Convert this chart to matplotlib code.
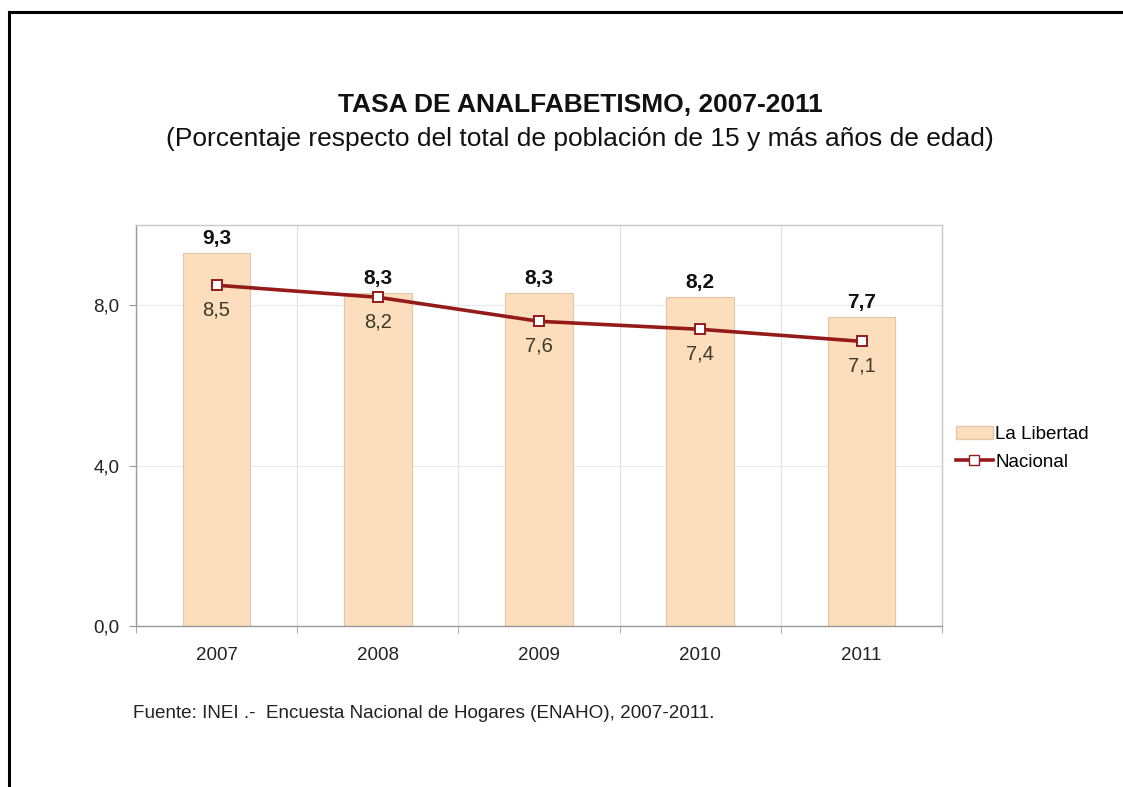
import matplotlib
matplotlib.use("Agg")
import matplotlib.pyplot as plt
from matplotlib.lines import Line2D
from matplotlib.patches import Patch

plt.rcParams['font.family'] = ['Liberation Sans', 'DejaVu Sans']

years = ["2007", "2008", "2009", "2010", "2011"]
la_libertad = [9.3, 8.3, 8.3, 8.2, 7.7]
nacional = [8.5, 8.2, 7.6, 7.4, 7.1]
yticks = [0, 4, 8]
ytick_labels = ["0,0", "4,0", "8,0"]

title = "TASA DE ANALFABETISMO, 2007-2011"
subtitle = "(Porcentaje respecto del total de población de 15 y más años de edad)"
source = "Fuente: INEI .-  Encuesta Nacional de Hogares (ENAHO), 2007-2011."

def fmt(v):
    return f"{v:.1f}".replace(".", ",")

fig = plt.figure(figsize=(11.23, 7.87), dpi=100)
ax = fig.add_axes([0.121, 0.2046, 0.718, 0.5094])

x = list(range(len(years)))
bar_color = "#FCDDBC"
line_color = "#951B1B"

ax.bar(x, la_libertad, width=0.42, color=bar_color, edgecolor="#E3C7A8",
       linewidth=0.8, zorder=2)
ax.plot(x, nacional, color=line_color, linewidth=2.6, marker="s",
        markersize=7, markerfacecolor="white", markeredgecolor=line_color,
        markeredgewidth=1.4, zorder=3)

for xi, v in zip(x, la_libertad):
    ax.annotate(fmt(v), (xi, v), xytext=(0, 4), textcoords="offset points",
                ha="center", va="bottom", fontsize=15, fontweight="bold",
                color="#111111")
for xi, v in zip(x, nacional):
    ax.annotate(fmt(v), (xi, v), xytext=(0, -11), textcoords="offset points",
                ha="center", va="top", fontsize=14.5, color="#3a3a2a")

ax.set_xlim(-0.5, len(years) - 0.5)
ax.set_ylim(0, 10)
ax.set_yticks(yticks)
ax.set_yticklabels(ytick_labels, fontsize=13.5, color="#222222")
ax.set_xticks(x)
ax.set_xticklabels(years, fontsize=13.5, color="#222222")
ax.tick_params(axis="x", length=0, pad=15)
ax.tick_params(axis="y", length=5, color="#999999", pad=7)

# minor ticks at category boundaries with vertical grid
bounds = [i + 0.5 for i in range(-1, len(years))]
ax.set_xticks(bounds, minor=True)
ax.tick_params(axis="x", which="minor", length=5, color="#999999")
ax.grid(axis="x", which="minor", color="#E2E2E2", linewidth=0.9, zorder=0)
ax.grid(axis="y", which="major", color="#EAEAEA", linewidth=0.9, zorder=0)
ax.set_axisbelow(True)

for side in ["left", "bottom"]:
    ax.spines[side].set_color("#9A9A9A")
    ax.spines[side].set_linewidth(1.0)
for side in ["top", "right"]:
    ax.spines[side].set_color("#C8C8C8")
    ax.spines[side].set_linewidth(1.0)

handles = [
    Patch(facecolor=bar_color, edgecolor="#E3C7A8", label="La Libertad"),
    Line2D([0], [0], color=line_color, linewidth=2.6, marker="s",
           markersize=7, markerfacecolor="white", markeredgecolor=line_color,
           label="Nacional"),
]
fig.legend(handles=handles, loc="upper left", bbox_to_anchor=(0.836, 0.48),
           frameon=False, fontsize=13.5, handlelength=2.0, handletextpad=0.1,
           labelspacing=0.55)

fig.text(0.5165, 0.867, title, ha="center", va="center", fontsize=19,
         fontweight="bold", color="#111111")
fig.text(0.5165, 0.824, subtitle, ha="center", va="center", fontsize=19,
         color="#111111")
fig.text(0.118, 0.094, source, ha="left", va="center", fontsize=13.6,
         color="#222222")

# outer border (top and left)
fig.add_artist(Line2D([0.008, 1.0], [0.985, 0.985], transform=fig.transFigure,
                      color="black", linewidth=2.2))
fig.add_artist(Line2D([0.008, 0.008], [0.0, 0.985], transform=fig.transFigure,
                      color="black", linewidth=2.2))

fig.savefig("out.png", dpi=100)
